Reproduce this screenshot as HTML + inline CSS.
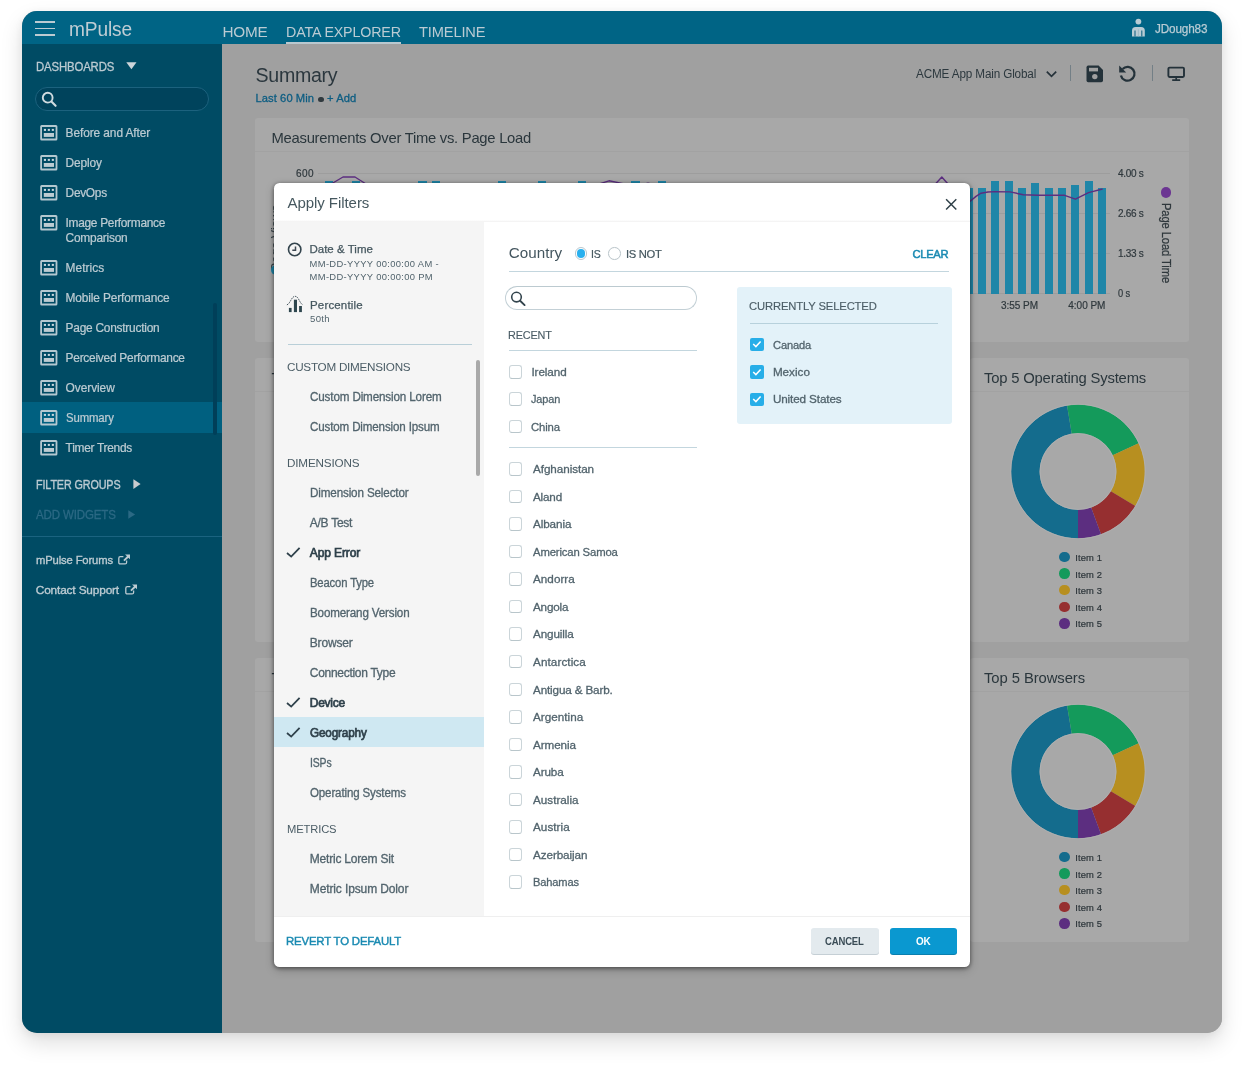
<!DOCTYPE html>
<html lang="en"><head><meta charset="utf-8"><title>mPulse - Apply Filters</title>
<style>
html,body{margin:0;padding:0;background:#fff;}
body{width:1244px;height:1065px;position:relative;overflow:hidden;font-family:"Liberation Sans",sans-serif;}
.r{position:absolute;display:block;}
.t{position:absolute;white-space:nowrap;display:block;}
#frame{position:absolute;left:22px;top:11px;width:1200px;height:1022px;border-radius:15px;overflow:hidden;background:#a0a0a0;}
#fs{position:absolute;left:22px;top:11px;width:1200px;height:1022px;border-radius:15px;box-shadow:0 10px 22px rgba(0,0,0,.13),0 2px 8px rgba(0,0,0,.06);}
#fi{position:absolute;left:-22px;top:-11px;width:1244px;height:1065px;will-change:transform;}
#modal{position:absolute;left:0;top:0;width:1244px;height:1065px;will-change:transform;}
</style></head>
<body>
<div id="fs"></div>
<div id="frame"><div id="fi">
<div class="r" style="left:22.00px;top:11.00px;width:1200.00px;height:33.00px;background:#006485;"></div>
<div class="r" style="left:35.30px;top:21.30px;width:20.00px;height:1.60px;background:#bccbd2;"></div>
<div class="r" style="left:35.30px;top:27.80px;width:20.00px;height:1.60px;background:#bccbd2;"></div>
<div class="r" style="left:35.30px;top:34.40px;width:20.00px;height:1.60px;background:#bccbd2;"></div>
<span class="t" id="t0" style="left:69.00px;top:14.00px;font-size:20.8px;line-height:29px;color:#bfcdd4;letter-spacing:-0.150px;transform:scaleX(0.9203);transform-origin:0 50%;">mPulse</span>
<span class="t" id="t1" style="left:222.60px;top:21.00px;font-size:15.3px;line-height:21px;color:#bacbd3;letter-spacing:-0.277px;">HOME</span>
<span class="t" id="t2" style="left:285.70px;top:21.00px;font-size:15.3px;line-height:21px;color:#bacbd3;letter-spacing:-0.150px;transform:scaleX(0.9319);transform-origin:0 50%;">DATA EXPLORER</span>
<div class="r" style="left:285.70px;top:42.00px;width:115.00px;height:2.00px;background:#b9c8cf;"></div>
<span class="t" id="t3" style="left:418.60px;top:21.00px;font-size:15.3px;line-height:21px;color:#bacbd3;letter-spacing:-0.150px;transform:scaleX(0.9575);transform-origin:0 50%;">TIMELINE</span>
<svg class="r" style="left:1131px;top:17px" width="16" height="21" viewBox="0 0 16 21"><circle cx="7.4" cy="4.6" r="2.9" fill="#b9ccd4"/><path d="M1 19.6 V13.6 Q1 10 4.6 10 H10.2 Q13.8 10 13.8 13.6 V19.6 Z" fill="#b9ccd4"/><path d="M4 13.4 V19.6 M10.8 13.4 V19.6" stroke="#176585" stroke-width="1.1"/><path d="M7.4 12.4 V19.6" stroke="#8fb0bf" stroke-width="0.7"/></svg>
<span class="t" id="t4" style="left:1155.30px;top:21.00px;font-size:12.3px;line-height:17px;color:#b9ccd4;letter-spacing:-0.150px;transform:scaleX(0.9548);transform-origin:0 50%;-webkit-text-stroke:0.25px;">JDough83</span>
<div class="r" style="left:22.00px;top:44.00px;width:200.00px;height:989.00px;background:#004b64;"></div>
<span class="t" id="t5" style="left:35.50px;top:58.00px;font-size:12.5px;line-height:18px;color:#bccbd2;letter-spacing:-0.150px;transform:scaleX(0.9090);transform-origin:0 50%;-webkit-text-stroke:0.3px;">DASHBOARDS</span>
<svg class="r" style="left:126px;top:62.4px" width="12" height="8" viewBox="0 0 12 8"><path d="M0.3 0.3 H10.5 L5.4 7.2 Z" fill="#cdd5da"/></svg>
<div class="r" style="left:35.20px;top:87.40px;width:174.00px;height:23.80px;background:#00435c;border:1.4px solid #1c627e;border-radius:12px;box-sizing:border-box;"></div>
<svg class="r" style="left:40px;top:90px" width="18" height="18" viewBox="0 0 18 18"><circle cx="7.7" cy="7.7" r="4.9" fill="none" stroke="#d0dbe0" stroke-width="1.9"/><path d="M11.4 11.4 L15.6 15.8" stroke="#d0dbe0" stroke-width="2.1" stroke-linecap="round"/></svg>
<div class="r" style="left:22.00px;top:402.40px;width:200.00px;height:30.20px;background:#006080;"></div>
<div class="r" style="left:212.60px;top:303.00px;width:4.60px;height:131.50px;background:#003f59;border-radius:2px;"></div>
<svg class="r" style="left:39.9px;top:124.9px" width="18" height="16" viewBox="0 0 18 16"><rect x="1.1" y="1" width="15.4" height="13.5" rx="0.6" fill="none" stroke="#b4c8d0" stroke-width="1.8"/><rect x="3.9" y="3.9" width="2.1" height="2" fill="#c9d8de"/><rect x="7.8" y="3.9" width="2.1" height="2" fill="#c9d8de"/><rect x="11.8" y="3.9" width="2.1" height="2" fill="#c9d8de"/><rect x="3.8" y="8" width="10.2" height="3.9" fill="#bdccd2"/></svg>
<span class="t" id="t6" style="left:65.60px;top:125.00px;font-size:11.9px;line-height:17px;color:#bccbd2;letter-spacing:-0.084px;-webkit-text-stroke:0.22px;">Before and After</span>
<svg class="r" style="left:39.9px;top:154.9px" width="18" height="16" viewBox="0 0 18 16"><rect x="1.1" y="1" width="15.4" height="13.5" rx="0.6" fill="none" stroke="#b4c8d0" stroke-width="1.8"/><rect x="3.9" y="3.9" width="2.1" height="2" fill="#c9d8de"/><rect x="7.8" y="3.9" width="2.1" height="2" fill="#c9d8de"/><rect x="11.8" y="3.9" width="2.1" height="2" fill="#c9d8de"/><rect x="3.8" y="8" width="10.2" height="3.9" fill="#bdccd2"/></svg>
<span class="t" id="t7" style="left:65.60px;top:155.00px;font-size:11.9px;line-height:17px;color:#bccbd2;letter-spacing:-0.119px;-webkit-text-stroke:0.22px;">Deploy</span>
<svg class="r" style="left:39.9px;top:184.9px" width="18" height="16" viewBox="0 0 18 16"><rect x="1.1" y="1" width="15.4" height="13.5" rx="0.6" fill="none" stroke="#b4c8d0" stroke-width="1.8"/><rect x="3.9" y="3.9" width="2.1" height="2" fill="#c9d8de"/><rect x="7.8" y="3.9" width="2.1" height="2" fill="#c9d8de"/><rect x="11.8" y="3.9" width="2.1" height="2" fill="#c9d8de"/><rect x="3.8" y="8" width="10.2" height="3.9" fill="#bdccd2"/></svg>
<span class="t" id="t8" style="left:65.60px;top:185.00px;font-size:11.9px;line-height:17px;color:#bccbd2;letter-spacing:-0.292px;-webkit-text-stroke:0.22px;">DevOps</span>
<svg class="r" style="left:39.9px;top:214.9px" width="18" height="16" viewBox="0 0 18 16"><rect x="1.1" y="1" width="15.4" height="13.5" rx="0.6" fill="none" stroke="#b4c8d0" stroke-width="1.8"/><rect x="3.9" y="3.9" width="2.1" height="2" fill="#c9d8de"/><rect x="7.8" y="3.9" width="2.1" height="2" fill="#c9d8de"/><rect x="11.8" y="3.9" width="2.1" height="2" fill="#c9d8de"/><rect x="3.8" y="8" width="10.2" height="3.9" fill="#bdccd2"/></svg>
<span class="t" id="t9" style="left:65.60px;top:215.00px;font-size:11.9px;line-height:17px;color:#bccbd2;letter-spacing:-0.295px;-webkit-text-stroke:0.22px;">Image Performance</span>
<svg class="r" style="left:39.9px;top:259.9px" width="18" height="16" viewBox="0 0 18 16"><rect x="1.1" y="1" width="15.4" height="13.5" rx="0.6" fill="none" stroke="#b4c8d0" stroke-width="1.8"/><rect x="3.9" y="3.9" width="2.1" height="2" fill="#c9d8de"/><rect x="7.8" y="3.9" width="2.1" height="2" fill="#c9d8de"/><rect x="11.8" y="3.9" width="2.1" height="2" fill="#c9d8de"/><rect x="3.8" y="8" width="10.2" height="3.9" fill="#bdccd2"/></svg>
<span class="t" id="t10" style="left:65.60px;top:260.00px;font-size:11.9px;line-height:17px;color:#bccbd2;letter-spacing:0.039px;-webkit-text-stroke:0.22px;">Metrics</span>
<svg class="r" style="left:39.9px;top:289.9px" width="18" height="16" viewBox="0 0 18 16"><rect x="1.1" y="1" width="15.4" height="13.5" rx="0.6" fill="none" stroke="#b4c8d0" stroke-width="1.8"/><rect x="3.9" y="3.9" width="2.1" height="2" fill="#c9d8de"/><rect x="7.8" y="3.9" width="2.1" height="2" fill="#c9d8de"/><rect x="11.8" y="3.9" width="2.1" height="2" fill="#c9d8de"/><rect x="3.8" y="8" width="10.2" height="3.9" fill="#bdccd2"/></svg>
<span class="t" id="t11" style="left:65.60px;top:290.00px;font-size:11.9px;line-height:17px;color:#bccbd2;letter-spacing:-0.139px;-webkit-text-stroke:0.22px;">Mobile Performance</span>
<svg class="r" style="left:39.9px;top:319.9px" width="18" height="16" viewBox="0 0 18 16"><rect x="1.1" y="1" width="15.4" height="13.5" rx="0.6" fill="none" stroke="#b4c8d0" stroke-width="1.8"/><rect x="3.9" y="3.9" width="2.1" height="2" fill="#c9d8de"/><rect x="7.8" y="3.9" width="2.1" height="2" fill="#c9d8de"/><rect x="11.8" y="3.9" width="2.1" height="2" fill="#c9d8de"/><rect x="3.8" y="8" width="10.2" height="3.9" fill="#bdccd2"/></svg>
<span class="t" id="t12" style="left:65.60px;top:320.00px;font-size:11.9px;line-height:17px;color:#bccbd2;letter-spacing:-0.237px;-webkit-text-stroke:0.22px;">Page Construction</span>
<svg class="r" style="left:39.9px;top:349.9px" width="18" height="16" viewBox="0 0 18 16"><rect x="1.1" y="1" width="15.4" height="13.5" rx="0.6" fill="none" stroke="#b4c8d0" stroke-width="1.8"/><rect x="3.9" y="3.9" width="2.1" height="2" fill="#c9d8de"/><rect x="7.8" y="3.9" width="2.1" height="2" fill="#c9d8de"/><rect x="11.8" y="3.9" width="2.1" height="2" fill="#c9d8de"/><rect x="3.8" y="8" width="10.2" height="3.9" fill="#bdccd2"/></svg>
<span class="t" id="t13" style="left:65.60px;top:350.00px;font-size:11.9px;line-height:17px;color:#bccbd2;letter-spacing:-0.245px;-webkit-text-stroke:0.22px;">Perceived Performance</span>
<svg class="r" style="left:39.9px;top:379.9px" width="18" height="16" viewBox="0 0 18 16"><rect x="1.1" y="1" width="15.4" height="13.5" rx="0.6" fill="none" stroke="#b4c8d0" stroke-width="1.8"/><rect x="3.9" y="3.9" width="2.1" height="2" fill="#c9d8de"/><rect x="7.8" y="3.9" width="2.1" height="2" fill="#c9d8de"/><rect x="11.8" y="3.9" width="2.1" height="2" fill="#c9d8de"/><rect x="3.8" y="8" width="10.2" height="3.9" fill="#bdccd2"/></svg>
<span class="t" id="t14" style="left:65.60px;top:380.00px;font-size:11.9px;line-height:17px;color:#bccbd2;letter-spacing:-0.058px;-webkit-text-stroke:0.22px;">Overview</span>
<svg class="r" style="left:39.9px;top:409.9px" width="18" height="16" viewBox="0 0 18 16"><rect x="1.1" y="1" width="15.4" height="13.5" rx="0.6" fill="none" stroke="#b4c8d0" stroke-width="1.8"/><rect x="3.9" y="3.9" width="2.1" height="2" fill="#c9d8de"/><rect x="7.8" y="3.9" width="2.1" height="2" fill="#c9d8de"/><rect x="11.8" y="3.9" width="2.1" height="2" fill="#c9d8de"/><rect x="3.8" y="8" width="10.2" height="3.9" fill="#bdccd2"/></svg>
<span class="t" id="t15" style="left:65.60px;top:410.00px;font-size:11.9px;line-height:17px;color:#bccbd2;letter-spacing:-0.150px;transform:scaleX(0.9574);transform-origin:0 50%;-webkit-text-stroke:0.22px;">Summary</span>
<svg class="r" style="left:39.9px;top:439.9px" width="18" height="16" viewBox="0 0 18 16"><rect x="1.1" y="1" width="15.4" height="13.5" rx="0.6" fill="none" stroke="#b4c8d0" stroke-width="1.8"/><rect x="3.9" y="3.9" width="2.1" height="2" fill="#c9d8de"/><rect x="7.8" y="3.9" width="2.1" height="2" fill="#c9d8de"/><rect x="11.8" y="3.9" width="2.1" height="2" fill="#c9d8de"/><rect x="3.8" y="8" width="10.2" height="3.9" fill="#bdccd2"/></svg>
<span class="t" id="t16" style="left:65.60px;top:440.00px;font-size:11.9px;line-height:17px;color:#bccbd2;letter-spacing:-0.267px;-webkit-text-stroke:0.22px;">Timer Trends</span>
<span class="t" id="t17" style="left:65.60px;top:230.00px;font-size:11.9px;line-height:17px;color:#bccbd2;letter-spacing:-0.221px;-webkit-text-stroke:0.22px;">Comparison</span>
<span class="t" id="t18" style="left:35.80px;top:476.00px;font-size:12.5px;line-height:18px;color:#bccbd2;letter-spacing:-0.150px;transform:scaleX(0.8637);transform-origin:0 50%;-webkit-text-stroke:0.35px;">FILTER GROUPS</span>
<svg class="r" style="left:132.8px;top:479.4px" width="9" height="11" viewBox="0 0 9 11"><path d="M0.4 0.3 V9.9 L7.6 5.1 Z" fill="#c9cccf"/></svg>
<span class="t" id="t19" style="left:35.80px;top:506.00px;font-size:12.5px;line-height:18px;color:#2b6984;letter-spacing:-0.150px;transform:scaleX(0.9220);transform-origin:0 50%;-webkit-text-stroke:0.3px;">ADD WIDGETS</span>
<svg class="r" style="left:128px;top:510.2px" width="9" height="11" viewBox="0 0 9 11"><path d="M0.3 0.3 V8.8 L7.1 4.5 Z" fill="#2b6984"/></svg>
<div class="r" style="left:22.00px;top:536.00px;width:200.00px;height:1.40px;background:#1b6380;"></div>
<span class="t" id="t20" style="left:35.80px;top:552.00px;font-size:11.8px;line-height:17px;color:#bccbd2;letter-spacing:-0.150px;transform:scaleX(0.9534);transform-origin:0 50%;-webkit-text-stroke:0.35px;">mPulse Forums</span>
<span class="t" id="t21" style="left:35.80px;top:582.00px;font-size:11.8px;line-height:17px;color:#bccbd2;letter-spacing:-0.138px;-webkit-text-stroke:0.35px;">Contact Support</span>
<svg class="r" style="left:118.2px;top:554.0px" width="13" height="11" viewBox="0 0 13 11"><path d="M8.6 6.4 V8.4 Q8.6 9.9 7.1 9.9 H2.3 Q0.8 9.9 0.8 8.4 V4.2 Q0.8 2.7 2.3 2.7 H5.4" fill="none" stroke="#bccbd2" stroke-width="1.3"/><path d="M7 0.5 H12 V5.3 L10.4 3.7 L6.6 7.3 L5.3 6 L9 2.3 Z" fill="#bccbd2"/></svg>
<svg class="r" style="left:125.0px;top:583.7px" width="13" height="11" viewBox="0 0 13 11"><path d="M8.6 6.4 V8.4 Q8.6 9.9 7.1 9.9 H2.3 Q0.8 9.9 0.8 8.4 V4.2 Q0.8 2.7 2.3 2.7 H5.4" fill="none" stroke="#bccbd2" stroke-width="1.3"/><path d="M7 0.5 H12 V5.3 L10.4 3.7 L6.6 7.3 L5.3 6 L9 2.3 Z" fill="#bccbd2"/></svg>
<div class="r" style="left:222.00px;top:44.00px;width:1000.00px;height:989.00px;background:#a0a0a0;"></div>
<span class="t" id="t22" style="left:255.50px;top:62.00px;font-size:19.6px;line-height:27px;color:#2b373e;letter-spacing:-0.278px;">Summary</span>
<span class="t" id="t23" style="left:255.50px;top:90.00px;font-size:11.2px;line-height:16px;color:#0d5d82;letter-spacing:0.069px;-webkit-text-stroke:0.3px;">Last 60 Min</span>
<div class="r" style="left:318.40px;top:96.60px;width:5.20px;height:5.20px;background:#30393e;border-radius:50%;"></div>
<span class="t" id="t24" style="left:327.00px;top:90.00px;font-size:11.2px;line-height:16px;color:#0d5d82;letter-spacing:0.073px;-webkit-text-stroke:0.3px;">+ Add</span>
<span class="t" id="t25" style="left:916.40px;top:66.00px;font-size:12.3px;line-height:17px;color:#2c383e;letter-spacing:-0.150px;transform:scaleX(0.9526);transform-origin:0 50%;">ACME App Main Global</span>
<svg class="r" style="left:1045px;top:69px" width="13" height="10" viewBox="0 0 13 10"><path d="M1.8 2.6 L6.5 7.4 L11.2 2.6" fill="none" stroke="#26323a" stroke-width="1.7"/></svg>
<div class="r" style="left:1069.70px;top:65.00px;width:1.20px;height:16.20px;background:#737f86;"></div>
<div class="r" style="left:1151.50px;top:65.00px;width:1.20px;height:16.20px;background:#737f86;"></div>
<svg class="r" style="left:1085.5px;top:64.5px" width="18" height="18" viewBox="0 0 18 18"><path d="M2.2 0.6 H12.6 L17 5 V15.4 Q17 17.2 15.2 17.2 H2.2 Q0.5 17.2 0.5 15.4 V2.4 Q0.5 0.6 2.2 0.6 Z" fill="#24323a"/><rect x="3" y="2.8" width="9" height="3.6" fill="#a0a0a0"/><circle cx="8.8" cy="11.6" r="2.7" fill="#a0a0a0"/></svg>
<svg class="r" style="left:1118px;top:64px" width="19" height="19" viewBox="0 0 19 19"><path d="M4.6 5 A6.9 6.9 0 1 1 2.9 11.4" fill="none" stroke="#24323a" stroke-width="2.3"/><path d="M1.2 1.4 V8.4 H8.2 Z" fill="#24323a"/></svg>
<svg class="r" style="left:1167px;top:66px" width="19" height="16" viewBox="0 0 19 16"><rect x="1.4" y="1.6" width="15.6" height="9.4" rx="1.2" fill="none" stroke="#24323a" stroke-width="1.9"/><path d="M9.2 11 V13.6 M5.2 14.2 H13.2" stroke="#24323a" stroke-width="1.7"/></svg>
<div class="r" style="left:255.40px;top:118.40px;width:933.60px;height:223.60px;background:#a8a8a8;border-radius:3px;"></div>
<div class="r" style="left:255.00px;top:151.00px;width:934.00px;height:1.00px;background:#a2a2a2;"></div>
<span class="t" id="t26" style="left:271.50px;top:128.00px;font-size:14.8px;line-height:21px;color:#2a363c;letter-spacing:-0.262px;">Measurements Over Time vs. Page Load</span>
<div class="r" style="left:255.00px;top:358.00px;width:700.00px;height:284.00px;background:#a8a8a8;border-radius:3px;"></div>
<div class="r" style="left:970.00px;top:358.00px;width:219.00px;height:284.00px;background:#a8a8a8;border-radius:3px;"></div>
<div class="r" style="left:255.00px;top:391.00px;width:700.00px;height:1.00px;background:#a2a2a2;"></div>
<div class="r" style="left:970.00px;top:391.00px;width:219.00px;height:1.00px;background:#a2a2a2;"></div>
<div class="r" style="left:255.00px;top:658.00px;width:700.00px;height:284.00px;background:#a8a8a8;border-radius:3px;"></div>
<div class="r" style="left:970.00px;top:658.00px;width:219.00px;height:284.00px;background:#a8a8a8;border-radius:3px;"></div>
<div class="r" style="left:255.00px;top:691.00px;width:700.00px;height:1.00px;background:#a2a2a2;"></div>
<div class="r" style="left:970.00px;top:691.00px;width:219.00px;height:1.00px;background:#a2a2a2;"></div>
<span class="t" id="t27" style="left:984.00px;top:368.00px;font-size:14.8px;line-height:21px;color:#2a363c;letter-spacing:-0.180px;">Top 5 Operating Systems</span>
<span class="t" id="t28" style="left:984.00px;top:668.00px;font-size:14.8px;line-height:21px;color:#2a363c;letter-spacing:-0.070px;">Top 5 Browsers</span>
<span class="t" id="t29" style="left:271.50px;top:368.00px;font-size:14.8px;line-height:21px;color:#2a363c;">Top Pages by Page Views</span>
<span class="t" id="t30" style="left:271.50px;top:668.00px;font-size:14.8px;line-height:21px;color:#2a363c;">Top Countries by Beacons</span>
<span class="t" id="t31" style="left:276.00px;top:229.00px;font-size:12.6px;line-height:18px;color:#3a464c;transform:translate(-50%,0) rotate(-90deg) scaleX(1.0000);transform-origin:center;">Page Views</span>
<div class="r" style="left:271.00px;top:264.50px;width:10.40px;height:10.40px;background:#1f86a8;border-radius:50%;"></div>
<svg class="r" style="left:0;top:0" width="1244" height="1065"><path d="M1078.00 538.40 A66.90 66.90 0 0 1 1067.07 405.50 L1071.74 433.71 A38.30 38.30 0 0 0 1078.00 509.80 Z" fill="#146c8d"/><path d="M1067.07 405.50 A66.90 66.90 0 0 1 1138.68 443.33 L1112.74 455.37 A38.30 38.30 0 0 0 1071.74 433.71 Z" fill="#149a5b"/><path d="M1138.68 443.33 A66.90 66.90 0 0 1 1135.34 505.96 L1110.83 491.23 A38.30 38.30 0 0 0 1112.74 455.37 Z" fill="#b78f20"/><path d="M1135.34 505.96 A66.90 66.90 0 0 1 1100.99 534.33 L1091.16 507.47 A38.30 38.30 0 0 0 1110.83 491.23 Z" fill="#962f30"/><path d="M1100.99 534.33 A66.90 66.90 0 0 1 1078.00 538.40 L1078.00 509.80 A38.30 38.30 0 0 0 1091.16 507.47 Z" fill="#5c2e80"/><circle cx="1078.00" cy="471.50" r="67.20" fill="none" stroke="#b3b3b3" stroke-width="0.8"/><circle cx="1078.00" cy="471.50" r="38.00" fill="none" stroke="#b3b3b3" stroke-width="0.8"/></svg>
<div class="r" style="left:1059.40px;top:551.80px;width:10.40px;height:10.40px;background:#146c8d;border-radius:50%;"></div>
<span class="t" id="t32" style="left:1075.30px;top:551.00px;font-size:9.4px;line-height:13px;color:#2c353a;letter-spacing:0.106px;-webkit-text-stroke:0.2px;">Item 1</span>
<div class="r" style="left:1059.40px;top:568.45px;width:10.40px;height:10.40px;background:#149a5b;border-radius:50%;"></div>
<span class="t" id="t33" style="left:1075.30px;top:568.00px;font-size:9.4px;line-height:13px;color:#2c353a;letter-spacing:0.106px;-webkit-text-stroke:0.2px;">Item 2</span>
<div class="r" style="left:1059.40px;top:585.10px;width:10.40px;height:10.40px;background:#b78f20;border-radius:50%;"></div>
<span class="t" id="t34" style="left:1075.30px;top:584.00px;font-size:9.4px;line-height:13px;color:#2c353a;letter-spacing:0.106px;-webkit-text-stroke:0.2px;">Item 3</span>
<div class="r" style="left:1059.40px;top:601.75px;width:10.40px;height:10.40px;background:#962f30;border-radius:50%;"></div>
<span class="t" id="t35" style="left:1075.30px;top:601.00px;font-size:9.4px;line-height:13px;color:#2c353a;letter-spacing:0.106px;-webkit-text-stroke:0.2px;">Item 4</span>
<div class="r" style="left:1059.40px;top:618.40px;width:10.40px;height:10.40px;background:#5c2e80;border-radius:50%;"></div>
<span class="t" id="t36" style="left:1075.30px;top:617.00px;font-size:9.4px;line-height:13px;color:#2c353a;letter-spacing:0.106px;-webkit-text-stroke:0.2px;">Item 5</span>
<svg class="r" style="left:0;top:0" width="1244" height="1065"><path d="M1078.00 838.40 A66.90 66.90 0 0 1 1067.07 705.50 L1071.74 733.71 A38.30 38.30 0 0 0 1078.00 809.80 Z" fill="#146c8d"/><path d="M1067.07 705.50 A66.90 66.90 0 0 1 1138.68 743.33 L1112.74 755.37 A38.30 38.30 0 0 0 1071.74 733.71 Z" fill="#149a5b"/><path d="M1138.68 743.33 A66.90 66.90 0 0 1 1135.34 805.96 L1110.83 791.23 A38.30 38.30 0 0 0 1112.74 755.37 Z" fill="#b78f20"/><path d="M1135.34 805.96 A66.90 66.90 0 0 1 1100.99 834.33 L1091.16 807.47 A38.30 38.30 0 0 0 1110.83 791.23 Z" fill="#962f30"/><path d="M1100.99 834.33 A66.90 66.90 0 0 1 1078.00 838.40 L1078.00 809.80 A38.30 38.30 0 0 0 1091.16 807.47 Z" fill="#5c2e80"/><circle cx="1078.00" cy="771.50" r="67.20" fill="none" stroke="#b3b3b3" stroke-width="0.8"/><circle cx="1078.00" cy="771.50" r="38.00" fill="none" stroke="#b3b3b3" stroke-width="0.8"/></svg>
<div class="r" style="left:1059.40px;top:851.80px;width:10.40px;height:10.40px;background:#146c8d;border-radius:50%;"></div>
<span class="t" id="t37" style="left:1075.30px;top:851.00px;font-size:9.4px;line-height:13px;color:#2c353a;letter-spacing:0.106px;-webkit-text-stroke:0.2px;">Item 1</span>
<div class="r" style="left:1059.40px;top:868.45px;width:10.40px;height:10.40px;background:#149a5b;border-radius:50%;"></div>
<span class="t" id="t38" style="left:1075.30px;top:868.00px;font-size:9.4px;line-height:13px;color:#2c353a;letter-spacing:0.106px;-webkit-text-stroke:0.2px;">Item 2</span>
<div class="r" style="left:1059.40px;top:885.10px;width:10.40px;height:10.40px;background:#b78f20;border-radius:50%;"></div>
<span class="t" id="t39" style="left:1075.30px;top:884.00px;font-size:9.4px;line-height:13px;color:#2c353a;letter-spacing:0.106px;-webkit-text-stroke:0.2px;">Item 3</span>
<div class="r" style="left:1059.40px;top:901.75px;width:10.40px;height:10.40px;background:#962f30;border-radius:50%;"></div>
<span class="t" id="t40" style="left:1075.30px;top:901.00px;font-size:9.4px;line-height:13px;color:#2c353a;letter-spacing:0.106px;-webkit-text-stroke:0.2px;">Item 4</span>
<div class="r" style="left:1059.40px;top:918.40px;width:10.40px;height:10.40px;background:#5c2e80;border-radius:50%;"></div>
<span class="t" id="t41" style="left:1075.30px;top:917.00px;font-size:9.4px;line-height:13px;color:#2c353a;letter-spacing:0.106px;-webkit-text-stroke:0.2px;">Item 5</span>
<div class="r" style="left:318.00px;top:173.00px;width:792.00px;height:1.00px;background:#9d9d9d;"></div>
<div class="r" style="left:318.00px;top:213.00px;width:792.00px;height:1.00px;background:#9d9d9d;"></div>
<div class="r" style="left:318.00px;top:253.00px;width:792.00px;height:1.00px;background:#9d9d9d;"></div>
<div class="r" style="left:318.00px;top:293.00px;width:792.00px;height:1.00px;background:#9d9d9d;"></div>
<span class="t" id="t42" style="left:296.00px;top:167.00px;font-size:10px;line-height:14px;color:#2f383d;letter-spacing:0.438px;-webkit-text-stroke:0.2px;">600</span>
<span class="t" id="t43" style="left:1118.00px;top:167.00px;font-size:10px;line-height:14px;color:#2f383d;letter-spacing:-0.292px;-webkit-text-stroke:0.2px;">4.00 s</span>
<span class="t" id="t44" style="left:1118.00px;top:207.00px;font-size:10px;line-height:14px;color:#2f383d;letter-spacing:-0.292px;-webkit-text-stroke:0.2px;">2.66 s</span>
<span class="t" id="t45" style="left:1118.00px;top:247.00px;font-size:10px;line-height:14px;color:#2f383d;letter-spacing:-0.292px;-webkit-text-stroke:0.2px;">1.33 s</span>
<span class="t" id="t46" style="left:1118.00px;top:287.00px;font-size:10px;line-height:14px;color:#2f383d;letter-spacing:-0.150px;transform:scaleX(0.9307);transform-origin:0 50%;-webkit-text-stroke:0.2px;">0 s</span>
<span class="t" id="t47" style="left:1001.00px;top:299.00px;font-size:10px;line-height:14px;color:#2f383d;letter-spacing:-0.036px;-webkit-text-stroke:0.2px;">3:55 PM</span>
<span class="t" id="t48" style="left:1068.30px;top:299.00px;font-size:10px;line-height:14px;color:#2f383d;letter-spacing:-0.021px;-webkit-text-stroke:0.2px;">4:00 PM</span>
<div class="r" style="left:977.80px;top:188.20px;width:8.20px;height:105.80px;background:#1f86a8;"></div>
<div class="r" style="left:991.15px;top:181.00px;width:8.20px;height:113.00px;background:#1f86a8;"></div>
<div class="r" style="left:1004.50px;top:181.00px;width:8.20px;height:113.00px;background:#1f86a8;"></div>
<div class="r" style="left:1017.85px;top:188.00px;width:8.20px;height:106.00px;background:#1f86a8;"></div>
<div class="r" style="left:1031.20px;top:183.40px;width:8.20px;height:110.60px;background:#1f86a8;"></div>
<div class="r" style="left:1044.55px;top:188.00px;width:8.20px;height:106.00px;background:#1f86a8;"></div>
<div class="r" style="left:1057.90px;top:188.00px;width:8.20px;height:106.00px;background:#1f86a8;"></div>
<div class="r" style="left:1071.25px;top:185.00px;width:8.20px;height:109.00px;background:#1f86a8;"></div>
<div class="r" style="left:1084.60px;top:181.00px;width:8.20px;height:113.00px;background:#1f86a8;"></div>
<div class="r" style="left:1097.95px;top:188.00px;width:8.20px;height:106.00px;background:#1f86a8;"></div>
<div class="r" style="left:964.45px;top:187.80px;width:8.20px;height:106.20px;background:#1f86a8;"></div>
<div class="r" style="left:325.12px;top:181.00px;width:8.20px;height:113.00px;background:#1f86a8;"></div>
<div class="r" style="left:351.76px;top:181.00px;width:8.20px;height:113.00px;background:#1f86a8;"></div>
<div class="r" style="left:418.36px;top:181.00px;width:8.20px;height:113.00px;background:#1f86a8;"></div>
<div class="r" style="left:431.68px;top:181.00px;width:8.20px;height:113.00px;background:#1f86a8;"></div>
<div class="r" style="left:498.28px;top:181.00px;width:8.20px;height:113.00px;background:#1f86a8;"></div>
<div class="r" style="left:538.24px;top:181.00px;width:8.20px;height:113.00px;background:#1f86a8;"></div>
<div class="r" style="left:578.20px;top:181.00px;width:8.20px;height:113.00px;background:#1f86a8;"></div>
<div class="r" style="left:631.48px;top:181.00px;width:8.20px;height:113.00px;background:#1f86a8;"></div>
<div class="r" style="left:658.12px;top:181.00px;width:8.20px;height:113.00px;background:#1f86a8;"></div>
<div class="r" style="left:951.16px;top:186.00px;width:8.20px;height:108.00px;background:#1f86a8;"></div>
<div class="r" style="left:937.84px;top:186.00px;width:8.20px;height:108.00px;background:#1f86a8;"></div>
<div class="r" style="left:924.52px;top:186.00px;width:8.20px;height:108.00px;background:#1f86a8;"></div>
<div class="r" style="left:911.20px;top:186.00px;width:8.20px;height:108.00px;background:#1f86a8;"></div>
<div class="r" style="left:897.88px;top:186.00px;width:8.20px;height:108.00px;background:#1f86a8;"></div>
<div class="r" style="left:884.56px;top:186.00px;width:8.20px;height:108.00px;background:#1f86a8;"></div>
<div class="r" style="left:871.24px;top:186.00px;width:8.20px;height:108.00px;background:#1f86a8;"></div>
<div class="r" style="left:857.92px;top:186.00px;width:8.20px;height:108.00px;background:#1f86a8;"></div>
<div class="r" style="left:844.60px;top:186.00px;width:8.20px;height:108.00px;background:#1f86a8;"></div>
<div class="r" style="left:831.28px;top:186.00px;width:8.20px;height:108.00px;background:#1f86a8;"></div>
<div class="r" style="left:817.96px;top:186.00px;width:8.20px;height:108.00px;background:#1f86a8;"></div>
<div class="r" style="left:804.64px;top:186.00px;width:8.20px;height:108.00px;background:#1f86a8;"></div>
<div class="r" style="left:791.32px;top:186.00px;width:8.20px;height:108.00px;background:#1f86a8;"></div>
<div class="r" style="left:778.00px;top:186.00px;width:8.20px;height:108.00px;background:#1f86a8;"></div>
<div class="r" style="left:764.68px;top:186.00px;width:8.20px;height:108.00px;background:#1f86a8;"></div>
<div class="r" style="left:751.36px;top:186.00px;width:8.20px;height:108.00px;background:#1f86a8;"></div>
<div class="r" style="left:738.04px;top:186.00px;width:8.20px;height:108.00px;background:#1f86a8;"></div>
<div class="r" style="left:724.72px;top:186.00px;width:8.20px;height:108.00px;background:#1f86a8;"></div>
<div class="r" style="left:711.40px;top:186.00px;width:8.20px;height:108.00px;background:#1f86a8;"></div>
<div class="r" style="left:698.08px;top:186.00px;width:8.20px;height:108.00px;background:#1f86a8;"></div>
<div class="r" style="left:684.76px;top:186.00px;width:8.20px;height:108.00px;background:#1f86a8;"></div>
<div class="r" style="left:671.44px;top:186.00px;width:8.20px;height:108.00px;background:#1f86a8;"></div>
<div class="r" style="left:644.80px;top:186.00px;width:8.20px;height:108.00px;background:#1f86a8;"></div>
<div class="r" style="left:618.16px;top:186.00px;width:8.20px;height:108.00px;background:#1f86a8;"></div>
<div class="r" style="left:604.84px;top:186.00px;width:8.20px;height:108.00px;background:#1f86a8;"></div>
<div class="r" style="left:591.52px;top:186.00px;width:8.20px;height:108.00px;background:#1f86a8;"></div>
<div class="r" style="left:564.88px;top:186.00px;width:8.20px;height:108.00px;background:#1f86a8;"></div>
<div class="r" style="left:551.56px;top:186.00px;width:8.20px;height:108.00px;background:#1f86a8;"></div>
<div class="r" style="left:524.92px;top:186.00px;width:8.20px;height:108.00px;background:#1f86a8;"></div>
<div class="r" style="left:511.60px;top:186.00px;width:8.20px;height:108.00px;background:#1f86a8;"></div>
<div class="r" style="left:484.96px;top:186.00px;width:8.20px;height:108.00px;background:#1f86a8;"></div>
<div class="r" style="left:471.64px;top:186.00px;width:8.20px;height:108.00px;background:#1f86a8;"></div>
<div class="r" style="left:458.32px;top:186.00px;width:8.20px;height:108.00px;background:#1f86a8;"></div>
<div class="r" style="left:445.00px;top:186.00px;width:8.20px;height:108.00px;background:#1f86a8;"></div>
<div class="r" style="left:405.04px;top:186.00px;width:8.20px;height:108.00px;background:#1f86a8;"></div>
<div class="r" style="left:391.72px;top:186.00px;width:8.20px;height:108.00px;background:#1f86a8;"></div>
<div class="r" style="left:378.40px;top:186.00px;width:8.20px;height:108.00px;background:#1f86a8;"></div>
<div class="r" style="left:365.08px;top:186.00px;width:8.20px;height:108.00px;background:#1f86a8;"></div>
<div class="r" style="left:338.44px;top:186.00px;width:8.20px;height:108.00px;background:#1f86a8;"></div>
<svg class="r" style="left:0;top:0" width="1244" height="1065"><g fill="none" stroke="#5c2e80" stroke-width="1.4" stroke-linejoin="round"><path d="M326 186 L332 183.5 L343 177 L355 177 L366 184 L380 190"/><path d="M597 185 L601 183.4 L609 180.8 L623 183.6 M643 184.4 L648 183.2 L653 184.4"/><path d="M930 190 L941.8 177 L952 188.5 L962 205 L970.2 201.2 L976 196.4 L981 193.2 L988 192 L995 191.6 L1010 191.9 L1023.3 194.7 L1038.5 195.3 L1064.6 195.3 L1075.4 199.2 L1088.5 192.6 L1102.6 189"/></g></svg>
<div class="r" style="left:1161.00px;top:187.40px;width:10.40px;height:10.40px;background:#6b3592;border-radius:50%;"></div>
<span class="t" id="t49" style="left:1165.50px;top:234.00px;font-size:12.6px;line-height:18px;color:#2f383d;letter-spacing:-0.150px;-webkit-text-stroke:0.25px;transform:translate(-50%,0) rotate(90deg) scaleX(0.8927);transform-origin:center;">Page Load Time</span>
</div></div>
<div id="modal">
<div class="r" style="left:273.50px;top:183.20px;width:696.80px;height:783.50px;background:#fff;border-radius:5.5px;box-shadow:0 1px 4px rgba(0,0,0,.5),0 3px 10px rgba(0,0,0,.22);"></div>
<div class="r" style="left:273.50px;top:222.00px;width:210.00px;height:694.00px;background:#f5f5f5;"></div>
<div class="r" style="left:273.50px;top:219.50px;width:696.80px;height:2.50px;background:linear-gradient(to bottom,#ffffff,#f1f0f0);"></div>
<div class="r" style="left:273.50px;top:915.60px;width:696.80px;height:1.00px;background:#efefef;"></div>
<span class="t" id="t50" style="left:287.50px;top:192.00px;font-size:15px;line-height:21px;color:#46585f;letter-spacing:-0.056px;">Apply Filters</span>
<svg class="r" style="left:944px;top:197px" width="14" height="14" viewBox="0 0 14 14"><path d="M2.1 2.3 L12.3 12.5 M12.3 2.3 L2.1 12.5" stroke="#2f4048" stroke-width="1.5"/></svg>
<svg class="r" style="left:287px;top:242.3px" width="16" height="16" viewBox="0 0 16 16"><circle cx="7.7" cy="7.5" r="6.2" fill="none" stroke="#33444d" stroke-width="1.6"/><path d="M8.5 4.6 V8.2 H5.3" fill="none" stroke="#3d4852" stroke-width="1.5"/></svg>
<span class="t" id="t51" style="left:309.40px;top:241.00px;font-size:11.5px;line-height:16px;color:#45575f;letter-spacing:0.029px;-webkit-text-stroke:0.25px;">Date &amp; Time</span>
<span class="t" id="t52" style="left:309.60px;top:257.00px;font-size:9.4px;line-height:13px;color:#52646d;letter-spacing:0.340px;">MM-DD-YYYY 00:00:00 AM -</span>
<span class="t" id="t53" style="left:309.60px;top:270.00px;font-size:9.4px;line-height:13px;color:#52646d;letter-spacing:0.336px;">MM-DD-YYYY 00:00:00 PM</span>
<svg class="r" style="left:286px;top:295px" width="18" height="19" viewBox="0 0 18 19"><path d="M0.9 9.9 C4.6 8.4 5.4 1.3 9.1 1.3 C12.8 1.3 13.4 8.4 17 9.9" fill="none" stroke="#33444d" stroke-width="0.9" stroke-dasharray="1.5 0.9"/><rect x="2.9" y="12.9" width="2.7" height="4.2" fill="#2f474f"/><rect x="7.9" y="4.7" width="3.1" height="12.4" fill="#2f474f"/><rect x="13.1" y="11" width="2.8" height="6.1" fill="#2f474f"/></svg>
<span class="t" id="t54" style="left:310.00px;top:297.00px;font-size:11.5px;line-height:16px;color:#45575f;letter-spacing:0.166px;-webkit-text-stroke:0.25px;">Percentile</span>
<span class="t" id="t55" style="left:310.00px;top:312.00px;font-size:9.6px;line-height:13px;color:#52646d;letter-spacing:0.303px;">50th</span>
<div class="r" style="left:287.50px;top:343.50px;width:184.00px;height:1.20px;background:#b9cfd8;"></div>
<div class="r" style="left:475.80px;top:360.00px;width:4.20px;height:115.60px;background:#a9a9a9;border-radius:2px;"></div>
<div class="r" style="left:273.50px;top:717.40px;width:210.00px;height:30.00px;background:#cfe8f2;"></div>
<span class="t" id="t56" style="left:287.00px;top:359.00px;font-size:11.7px;line-height:16px;color:#4b5d66;letter-spacing:-0.254px;">CUSTOM DIMENSIONS</span>
<span class="t" id="t57" style="left:287.00px;top:455.00px;font-size:11.7px;line-height:16px;color:#4b5d66;letter-spacing:-0.173px;">DIMENSIONS</span>
<span class="t" id="t58" style="left:287.00px;top:821.00px;font-size:11.7px;line-height:16px;color:#4b5d66;letter-spacing:-0.150px;transform:scaleX(0.9584);transform-origin:0 50%;">METRICS</span>
<span class="t" id="t59" style="left:309.80px;top:389.00px;font-size:12px;line-height:17px;color:#52646d;letter-spacing:-0.150px;transform:scaleX(0.9718);transform-origin:0 50%;-webkit-text-stroke:0.3px;">Custom Dimension Lorem</span>
<span class="t" id="t60" style="left:309.80px;top:419.00px;font-size:12px;line-height:17px;color:#52646d;letter-spacing:-0.150px;transform:scaleX(0.9658);transform-origin:0 50%;-webkit-text-stroke:0.3px;">Custom Dimension Ipsum</span>
<span class="t" id="t61" style="left:309.80px;top:485.00px;font-size:12px;line-height:17px;color:#52646d;letter-spacing:-0.150px;transform:scaleX(0.9719);transform-origin:0 50%;-webkit-text-stroke:0.3px;">Dimension Selector</span>
<span class="t" id="t62" style="left:309.80px;top:515.00px;font-size:12px;line-height:17px;color:#52646d;letter-spacing:-0.271px;-webkit-text-stroke:0.3px;">A/B Test</span>
<span class="t" id="t63" style="left:309.80px;top:545.00px;font-size:12px;line-height:17px;color:#2f414b;letter-spacing:-0.107px;-webkit-text-stroke:0.7px;">App Error</span>
<svg class="r" style="left:286.4px;top:547.2px" width="15" height="11" viewBox="0 0 15 11"><path d="M1 6 L5.2 9.6 L13.6 0.9" fill="none" stroke="#2f414b" stroke-width="1.8"/></svg>
<span class="t" id="t64" style="left:309.80px;top:575.00px;font-size:12px;line-height:17px;color:#52646d;letter-spacing:-0.150px;transform:scaleX(0.9385);transform-origin:0 50%;-webkit-text-stroke:0.3px;">Beacon Type</span>
<span class="t" id="t65" style="left:309.80px;top:605.00px;font-size:12px;line-height:17px;color:#52646d;letter-spacing:-0.150px;transform:scaleX(0.9674);transform-origin:0 50%;-webkit-text-stroke:0.3px;">Boomerang Version</span>
<span class="t" id="t66" style="left:309.80px;top:635.00px;font-size:12px;line-height:17px;color:#52646d;letter-spacing:-0.188px;-webkit-text-stroke:0.3px;">Browser</span>
<span class="t" id="t67" style="left:309.80px;top:665.00px;font-size:12px;line-height:17px;color:#52646d;letter-spacing:-0.290px;-webkit-text-stroke:0.3px;">Connection Type</span>
<span class="t" id="t68" style="left:309.80px;top:695.00px;font-size:12px;line-height:17px;color:#2f414b;letter-spacing:-0.265px;-webkit-text-stroke:0.7px;">Device</span>
<svg class="r" style="left:286.4px;top:697.2px" width="15" height="11" viewBox="0 0 15 11"><path d="M1 6 L5.2 9.6 L13.6 0.9" fill="none" stroke="#2f414b" stroke-width="1.8"/></svg>
<span class="t" id="t69" style="left:309.80px;top:725.00px;font-size:12px;line-height:17px;color:#2f414b;letter-spacing:-0.150px;transform:scaleX(0.9754);transform-origin:0 50%;-webkit-text-stroke:0.7px;">Geography</span>
<svg class="r" style="left:286.4px;top:727.2px" width="15" height="11" viewBox="0 0 15 11"><path d="M1 6 L5.2 9.6 L13.6 0.9" fill="none" stroke="#2f414b" stroke-width="1.8"/></svg>
<span class="t" id="t70" style="left:309.80px;top:755.00px;font-size:12px;line-height:17px;color:#52646d;letter-spacing:-0.150px;transform:scaleX(0.8689);transform-origin:0 50%;-webkit-text-stroke:0.3px;">ISPs</span>
<span class="t" id="t71" style="left:309.80px;top:785.00px;font-size:12px;line-height:17px;color:#52646d;letter-spacing:-0.150px;transform:scaleX(0.9628);transform-origin:0 50%;-webkit-text-stroke:0.3px;">Operating Systems</span>
<span class="t" id="t72" style="left:309.80px;top:851.00px;font-size:12px;line-height:17px;color:#52646d;letter-spacing:-0.210px;-webkit-text-stroke:0.3px;">Metric Lorem Sit</span>
<span class="t" id="t73" style="left:309.80px;top:881.00px;font-size:12px;line-height:17px;color:#52646d;letter-spacing:-0.122px;-webkit-text-stroke:0.3px;">Metric Ipsum Dolor</span>
<span class="t" id="t74" style="left:286.40px;top:933.00px;font-size:11.7px;line-height:16px;color:#1a8ab2;letter-spacing:-0.150px;transform:scaleX(0.9715);transform-origin:0 50%;-webkit-text-stroke:0.45px;">REVERT TO DEFAULT</span>
<div class="r" style="left:810.60px;top:928.20px;width:68.40px;height:26.00px;background:#e3eaee;border-radius:3px;box-shadow:0 1px 0 #c5cfd5;"></div>
<div class="r" style="left:889.60px;top:928.20px;width:67.20px;height:26.00px;background:#0a98d0;border-radius:3px;box-shadow:0 1px 0 #0a7fae;"></div>
<span class="t" id="t75" style="left:825.40px;top:935.00px;font-size:10.2px;line-height:14px;color:#3a4c56;font-weight:700;letter-spacing:-0.150px;transform:scaleX(0.9313);transform-origin:0 50%;">CANCEL</span>
<span class="t" id="t76" style="left:915.60px;top:935.00px;font-size:10.2px;line-height:14px;color:#fff;font-weight:700;letter-spacing:-0.150px;transform:scaleX(0.9746);transform-origin:0 50%;">OK</span>
<span class="t" id="t77" style="left:508.80px;top:242.00px;font-size:15.2px;line-height:21px;color:#44565f;letter-spacing:0.030px;">Country</span>
<div class="r" style="left:574.70px;top:247.20px;width:12.70px;height:12.70px;background:#fff;border:1px solid #b9c7ce;border-radius:50%;box-sizing:border-box;"></div>
<div class="r" style="left:576.85px;top:249.35px;width:8.40px;height:8.40px;background:#29b0ee;border-radius:50%;"></div>
<span class="t" id="t78" style="left:591.30px;top:246.00px;font-size:11.2px;line-height:16px;color:#45575f;letter-spacing:-0.150px;transform:scaleX(0.9438);transform-origin:0 50%;-webkit-text-stroke:0.2px;">IS</span>
<div class="r" style="left:608.30px;top:247.20px;width:12.70px;height:12.70px;background:#fff;border:1.2px solid #b9c4c9;border-radius:50%;box-sizing:border-box;"></div>
<span class="t" id="t79" style="left:625.90px;top:246.00px;font-size:11.2px;line-height:16px;color:#45575f;letter-spacing:-0.266px;-webkit-text-stroke:0.2px;">IS NOT</span>
<span class="t" id="t80" style="left:912.40px;top:246.00px;font-size:11.2px;line-height:16px;color:#1a8ab2;letter-spacing:-0.283px;-webkit-text-stroke:0.5px;">CLEAR</span>
<div class="r" style="left:508.60px;top:270.90px;width:440.20px;height:1.30px;background:#c3d6de;"></div>
<div class="r" style="left:505.20px;top:286.40px;width:191.50px;height:23.30px;background:#fff;border:1px solid #c3d0d6;border-top-color:#bccad0;border-radius:12px;box-sizing:border-box;"></div>
<svg class="r" style="left:509px;top:290px" width="18" height="18" viewBox="0 0 18 18"><circle cx="7.5" cy="7.1" r="4.8" fill="none" stroke="#33444d" stroke-width="1.6"/><path d="M11.1 10.8 L15.6 15.1" stroke="#33444d" stroke-width="1.9" stroke-linecap="round"/></svg>
<span class="t" id="t81" style="left:507.60px;top:327.00px;font-size:11.6px;line-height:16px;color:#4b5d66;letter-spacing:-0.150px;transform:scaleX(0.9365);transform-origin:0 50%;-webkit-text-stroke:0.15px;">RECENT</span>
<div class="r" style="left:508.60px;top:350.20px;width:188.00px;height:1.30px;background:#c3d6de;"></div>
<div class="r" style="left:508.60px;top:446.70px;width:188.00px;height:1.30px;background:#c3d6de;"></div>
<div class="r" style="left:508.50px;top:365.30px;width:13.50px;height:13.50px;background:#fff;border:1.5px solid #cbd5d9;border-bottom-color:#b9c6cb;border-radius:3px;box-sizing:border-box;"></div>
<span class="t" id="t82" style="left:531.40px;top:364.00px;font-size:11.7px;line-height:16px;color:#52646d;letter-spacing:-0.064px;-webkit-text-stroke:0.3px;">Ireland</span>
<div class="r" style="left:508.50px;top:392.20px;width:13.50px;height:13.50px;background:#fff;border:1.5px solid #cbd5d9;border-bottom-color:#b9c6cb;border-radius:3px;box-sizing:border-box;"></div>
<span class="t" id="t83" style="left:531.40px;top:391.00px;font-size:11.7px;line-height:16px;color:#52646d;letter-spacing:-0.150px;transform:scaleX(0.9354);transform-origin:0 50%;-webkit-text-stroke:0.3px;">Japan</span>
<div class="r" style="left:508.50px;top:419.70px;width:13.50px;height:13.50px;background:#fff;border:1.5px solid #cbd5d9;border-bottom-color:#b9c6cb;border-radius:3px;box-sizing:border-box;"></div>
<span class="t" id="t84" style="left:531.40px;top:419.00px;font-size:11.7px;line-height:16px;color:#52646d;letter-spacing:-0.150px;transform:scaleX(0.9699);transform-origin:0 50%;-webkit-text-stroke:0.3px;">China</span>
<div class="r" style="left:508.50px;top:462.10px;width:13.50px;height:13.50px;background:#fff;border:1.5px solid #cbd5d9;border-bottom-color:#b9c6cb;border-radius:3px;box-sizing:border-box;"></div>
<span class="t" id="t85" style="left:533.00px;top:461.00px;font-size:11.7px;line-height:16px;color:#52646d;letter-spacing:-0.067px;-webkit-text-stroke:0.3px;">Afghanistan</span>
<div class="r" style="left:508.50px;top:489.65px;width:13.50px;height:13.50px;background:#fff;border:1.5px solid #cbd5d9;border-bottom-color:#b9c6cb;border-radius:3px;box-sizing:border-box;"></div>
<span class="t" id="t86" style="left:533.00px;top:489.00px;font-size:11.7px;line-height:16px;color:#52646d;letter-spacing:-0.181px;-webkit-text-stroke:0.3px;">Aland</span>
<div class="r" style="left:508.50px;top:517.20px;width:13.50px;height:13.50px;background:#fff;border:1.5px solid #cbd5d9;border-bottom-color:#b9c6cb;border-radius:3px;box-sizing:border-box;"></div>
<span class="t" id="t87" style="left:533.00px;top:516.00px;font-size:11.7px;line-height:16px;color:#52646d;letter-spacing:-0.100px;-webkit-text-stroke:0.3px;">Albania</span>
<div class="r" style="left:508.50px;top:544.75px;width:13.50px;height:13.50px;background:#fff;border:1.5px solid #cbd5d9;border-bottom-color:#b9c6cb;border-radius:3px;box-sizing:border-box;"></div>
<span class="t" id="t88" style="left:533.00px;top:544.00px;font-size:11.7px;line-height:16px;color:#52646d;letter-spacing:-0.150px;transform:scaleX(0.9674);transform-origin:0 50%;-webkit-text-stroke:0.3px;">American Samoa</span>
<div class="r" style="left:508.50px;top:572.30px;width:13.50px;height:13.50px;background:#fff;border:1.5px solid #cbd5d9;border-bottom-color:#b9c6cb;border-radius:3px;box-sizing:border-box;"></div>
<span class="t" id="t89" style="left:533.00px;top:571.00px;font-size:11.7px;line-height:16px;color:#52646d;letter-spacing:0.029px;-webkit-text-stroke:0.3px;">Andorra</span>
<div class="r" style="left:508.50px;top:599.85px;width:13.50px;height:13.50px;background:#fff;border:1.5px solid #cbd5d9;border-bottom-color:#b9c6cb;border-radius:3px;box-sizing:border-box;"></div>
<span class="t" id="t90" style="left:533.00px;top:599.00px;font-size:11.7px;line-height:16px;color:#52646d;letter-spacing:-0.201px;-webkit-text-stroke:0.3px;">Angola</span>
<div class="r" style="left:508.50px;top:627.40px;width:13.50px;height:13.50px;background:#fff;border:1.5px solid #cbd5d9;border-bottom-color:#b9c6cb;border-radius:3px;box-sizing:border-box;"></div>
<span class="t" id="t91" style="left:533.00px;top:626.00px;font-size:11.7px;line-height:16px;color:#52646d;letter-spacing:-0.112px;-webkit-text-stroke:0.3px;">Anguilla</span>
<div class="r" style="left:508.50px;top:654.95px;width:13.50px;height:13.50px;background:#fff;border:1.5px solid #cbd5d9;border-bottom-color:#b9c6cb;border-radius:3px;box-sizing:border-box;"></div>
<span class="t" id="t92" style="left:533.00px;top:654.00px;font-size:11.7px;line-height:16px;color:#52646d;letter-spacing:0.093px;-webkit-text-stroke:0.3px;">Antarctica</span>
<div class="r" style="left:508.50px;top:682.50px;width:13.50px;height:13.50px;background:#fff;border:1.5px solid #cbd5d9;border-bottom-color:#b9c6cb;border-radius:3px;box-sizing:border-box;"></div>
<span class="t" id="t93" style="left:533.00px;top:682.00px;font-size:11.7px;line-height:16px;color:#52646d;letter-spacing:-0.152px;-webkit-text-stroke:0.3px;">Antigua &amp; Barb.</span>
<div class="r" style="left:508.50px;top:710.05px;width:13.50px;height:13.50px;background:#fff;border:1.5px solid #cbd5d9;border-bottom-color:#b9c6cb;border-radius:3px;box-sizing:border-box;"></div>
<span class="t" id="t94" style="left:533.00px;top:709.00px;font-size:11.7px;line-height:16px;color:#52646d;letter-spacing:0.017px;-webkit-text-stroke:0.3px;">Argentina</span>
<div class="r" style="left:508.50px;top:737.60px;width:13.50px;height:13.50px;background:#fff;border:1.5px solid #cbd5d9;border-bottom-color:#b9c6cb;border-radius:3px;box-sizing:border-box;"></div>
<span class="t" id="t95" style="left:533.00px;top:737.00px;font-size:11.7px;line-height:16px;color:#52646d;letter-spacing:-0.076px;-webkit-text-stroke:0.3px;">Armenia</span>
<div class="r" style="left:508.50px;top:765.15px;width:13.50px;height:13.50px;background:#fff;border:1.5px solid #cbd5d9;border-bottom-color:#b9c6cb;border-radius:3px;box-sizing:border-box;"></div>
<span class="t" id="t96" style="left:533.00px;top:764.00px;font-size:11.7px;line-height:16px;color:#52646d;letter-spacing:-0.121px;-webkit-text-stroke:0.3px;">Aruba</span>
<div class="r" style="left:508.50px;top:792.70px;width:13.50px;height:13.50px;background:#fff;border:1.5px solid #cbd5d9;border-bottom-color:#b9c6cb;border-radius:3px;box-sizing:border-box;"></div>
<span class="t" id="t97" style="left:533.00px;top:792.00px;font-size:11.7px;line-height:16px;color:#52646d;letter-spacing:0.002px;-webkit-text-stroke:0.3px;">Australia</span>
<div class="r" style="left:508.50px;top:820.25px;width:13.50px;height:13.50px;background:#fff;border:1.5px solid #cbd5d9;border-bottom-color:#b9c6cb;border-radius:3px;box-sizing:border-box;"></div>
<span class="t" id="t98" style="left:533.00px;top:819.00px;font-size:11.7px;line-height:16px;color:#52646d;letter-spacing:0.058px;-webkit-text-stroke:0.3px;">Austria</span>
<div class="r" style="left:508.50px;top:847.80px;width:13.50px;height:13.50px;background:#fff;border:1.5px solid #cbd5d9;border-bottom-color:#b9c6cb;border-radius:3px;box-sizing:border-box;"></div>
<span class="t" id="t99" style="left:533.00px;top:847.00px;font-size:11.7px;line-height:16px;color:#52646d;letter-spacing:-0.083px;-webkit-text-stroke:0.3px;">Azerbaijan</span>
<div class="r" style="left:508.50px;top:875.35px;width:13.50px;height:13.50px;background:#fff;border:1.5px solid #cbd5d9;border-bottom-color:#b9c6cb;border-radius:3px;box-sizing:border-box;"></div>
<span class="t" id="t100" style="left:533.00px;top:874.00px;font-size:11.7px;line-height:16px;color:#52646d;letter-spacing:-0.150px;transform:scaleX(0.9495);transform-origin:0 50%;-webkit-text-stroke:0.3px;">Bahamas</span>
<div class="r" style="left:737.40px;top:287.00px;width:214.20px;height:137.00px;background:#e3f2f9;border-radius:3px;"></div>
<span class="t" id="t101" style="left:748.80px;top:298.00px;font-size:11.7px;line-height:16px;color:#4b5d66;letter-spacing:-0.150px;transform:scaleX(0.9630);transform-origin:0 50%;-webkit-text-stroke:0.15px;">CURRENTLY SELECTED</span>
<div class="r" style="left:750.30px;top:322.80px;width:188.20px;height:1.30px;background:#b7d1dc;"></div>
<div class="r" style="left:750.30px;top:337.60px;width:13.40px;height:13.40px;background:#27aee8;border-radius:2px;"></div>
<svg class="r" style="left:750.3px;top:337.4px" width="14" height="14" viewBox="0 0 14 14"><path d="M3.2 7 L5.9 9.6 L10.6 4.4" fill="none" stroke="#fff" stroke-width="1.5"/></svg>
<span class="t" id="t102" style="left:772.90px;top:337.00px;font-size:11.7px;line-height:16px;color:#52646d;letter-spacing:-0.150px;transform:scaleX(0.9512);transform-origin:0 50%;-webkit-text-stroke:0.3px;">Canada</span>
<div class="r" style="left:750.30px;top:365.20px;width:13.40px;height:13.40px;background:#27aee8;border-radius:2px;"></div>
<svg class="r" style="left:750.3px;top:365.0px" width="14" height="14" viewBox="0 0 14 14"><path d="M3.2 7 L5.9 9.6 L10.6 4.4" fill="none" stroke="#fff" stroke-width="1.5"/></svg>
<span class="t" id="t103" style="left:772.90px;top:364.00px;font-size:11.7px;line-height:16px;color:#52646d;letter-spacing:-0.005px;-webkit-text-stroke:0.3px;">Mexico</span>
<div class="r" style="left:750.30px;top:392.50px;width:13.40px;height:13.40px;background:#27aee8;border-radius:2px;"></div>
<svg class="r" style="left:750.3px;top:392.3px" width="14" height="14" viewBox="0 0 14 14"><path d="M3.2 7 L5.9 9.6 L10.6 4.4" fill="none" stroke="#fff" stroke-width="1.5"/></svg>
<span class="t" id="t104" style="left:772.90px;top:391.00px;font-size:11.7px;line-height:16px;color:#52646d;letter-spacing:-0.121px;-webkit-text-stroke:0.3px;">United States</span>
</div>
</body></html>
